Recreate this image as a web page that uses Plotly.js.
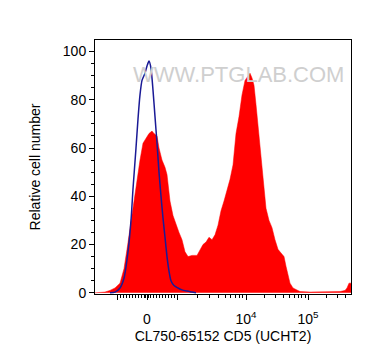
<!DOCTYPE html>
<html>
<head>
<meta charset="utf-8">
<script src="https://cdn.plot.ly/plotly-3.0.1.min.js"></script>
<style>html,body{margin:0;padding:0;background:#fff;}#chart{width:372px;height:364px;}</style>
</head>
<body>
<div id="chart"></div>
<script>
// Display-scale channel (biexponential display, 0..256) and relative cell number
const cd5Channel = [0, 10, 15, 20, 25, 29, 32, 35, 38, 41, 45, 48, 51, 54, 57, 59, 62, 64, 67, 70, 72, 75, 78, 81, 84, 87, 90, 93, 97, 102, 105, 108, 111, 114, 117, 120, 123, 126, 129, 132, 135, 138, 141, 144, 147, 150, 153, 155, 157, 159, 161, 163, 165, 167, 169, 171, 174, 177, 180, 183, 186, 189, 191, 193, 195, 198, 202, 205, 215, 235, 245, 250, 252, 254, 256];
const cd5Count   = [0, 0.3, 1, 2, 4, 10, 18, 27, 36, 45, 55, 62, 64, 66, 67, 66, 65, 60, 55, 52, 49, 38, 32, 28, 25, 22, 17, 15, 15.5, 15.5, 18, 20, 21, 23, 22, 24, 28, 34, 38, 42, 47, 53, 66, 73, 82, 88, 90, 91, 89, 86, 78, 69, 60, 50, 42, 35, 30, 27, 22, 18, 16.5, 15, 11, 7, 4, 2, 1, 0.5, 0.3, 0.3, 0.5, 1, 2, 4, 4];

const isoChannel = [15, 20, 25, 29, 33, 36, 38, 41, 43, 45, 47, 50, 52, 54, 56, 58, 60, 62, 64, 66, 68, 70, 72, 74, 76, 79, 83, 87, 92, 97, 101];
const isoCount   = [0, 0.3, 2, 6, 17, 30, 43, 60, 72, 82, 88, 91, 94, 96, 93, 84, 73, 62, 50, 40, 31, 23, 15, 9, 5, 3, 2, 1.2, 0.7, 0.3, 0];

// Axis ticks (display-channel positions of decades)
const majorTickVals = [22, 52, 82, 151, 213];
const majorTickText = ['', '0', '', '10<sup style="font-size:12px">4</sup>', '10<sup style="font-size:12px">5</sup>'];

function tickPos(v) {
  // linear region between -1000 and 1000, log decades above
  if (Math.abs(v) <= 1000) return 52 + 30 * v / 1000;
  if (v <= 1e4) return 82 + 69 * Math.log10(v / 1e3);
  if (v <= 1e5) return 151 + 62 * Math.log10(v / 1e4);
  return 213 + 62 * Math.log10(v / 1e5);
}
const minorVals = [];
for (let v = -900; v <= 900; v += 100) if (v !== 0) minorVals.push(tickPos(v));
[-50, 50].forEach(v => minorVals.push(tickPos(v)));
for (let d = 1e3; d <= 1e5; d *= 10) {
  for (let m = 2; m <= 9; m++) {
    const p = tickPos(m * d);
    if (p <= 256) minorVals.push(p);
  }
}

const font = {family: 'Liberation Sans, Arial, sans-serif', color: '#000'};

const traces = [
  {
    x: cd5Channel, y: cd5Count, type: 'scatter', mode: 'lines',
    fill: 'tozeroy', fillcolor: '#ff0000', line: {color: '#ff0000', width: 0.5},
    hoverinfo: 'skip', showlegend: false
  },
  {
    x: isoChannel, y: isoCount, type: 'scatter', mode: 'lines',
    line: {color: '#1a1a96', width: 1.5, shape: 'spline', smoothing: 0.6},
    hoverinfo: 'skip', showlegend: false
  }
];

const layout = {
  width: 372, height: 364,
  margin: {l: 95, r: 21, t: 40, b: 70},
  paper_bgcolor: '#fff', plot_bgcolor: '#fff',
  font: Object.assign({size: 14}, font),
  xaxis: {
    range: [0, 256], showgrid: false, zeroline: false,
    showline: true, linecolor: '#000', linewidth: 1, mirror: true,
    tickmode: 'array', tickvals: majorTickVals, ticktext: majorTickText,
    ticks: 'outside', ticklen: 5, tickwidth: 1, tickcolor: '#000',
    ticklabelstandoff: 7,
    tickfont: Object.assign({size: 14}, font),
    minor: {tickmode: 'array', tickvals: minorVals, ticks: 'outside', ticklen: 3, tickwidth: 1, tickcolor: '#000', showgrid: false},
    title: {text: 'CL750-65152 CD5 (UCHT2)', font: Object.assign({size: 14}, font), standoff: 5}
  },
  yaxis: {
    range: [-0.5, 104.75], showgrid: false, zeroline: false,
    showline: true, linecolor: '#000', linewidth: 1, mirror: true,
    tickmode: 'linear', tick0: 0, dtick: 20,
    ticks: 'outside', ticklen: 5, tickwidth: 1, tickcolor: '#000',
    tickfont: Object.assign({size: 14}, font),
    minor: {tickmode: 'linear', dtick: 5, ticks: 'outside', ticklen: 3, tickwidth: 1, tickcolor: '#000', showgrid: false},
    title: {text: 'Relative cell number', font: Object.assign({size: 14}, font), standoff: 18}
  },
  annotations: [{
    text: 'WWW.PTGLAB.COM', xref: 'paper', yref: 'paper', x: 0.56, y: 0.92,
    showarrow: false, font: {family: 'Liberation Sans, Arial, sans-serif', size: 22, color: '#cfcfcf'}
  }]
};

Plotly.newPlot('chart', traces, layout, {staticPlot: true, displayModeBar: false});
</script>
</body>
</html>
